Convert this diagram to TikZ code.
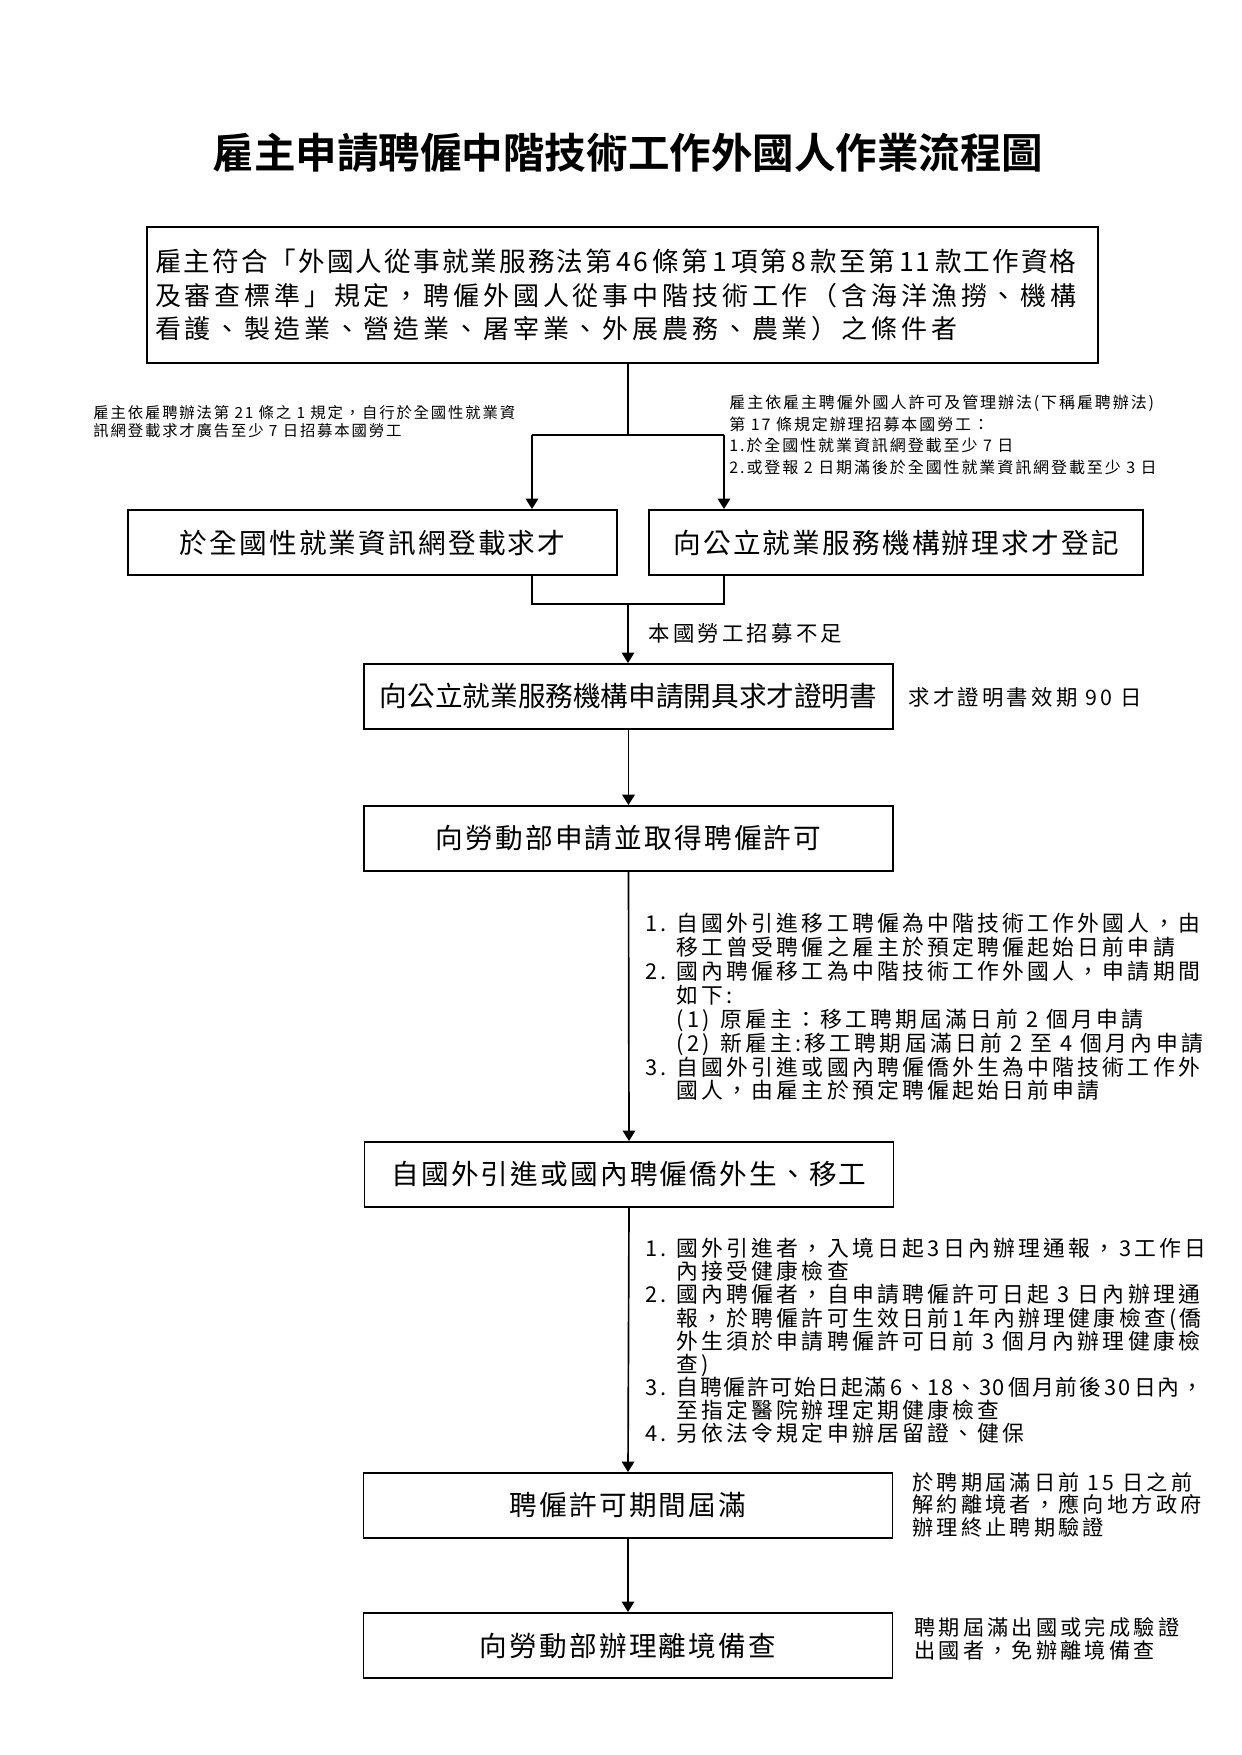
\documentclass[tikz,border=0pt]{standalone}
\usepackage{fontspec}
\setmainfont{Noto Sans CJK TC}[BoldFont={Noto Sans CJK TC Bold}]
\newfontfamily\LSa{Noto Sans CJK TC}[LetterSpace=6]
\newfontfamily\LSb{Noto Sans CJK TC}[LetterSpace=8]
\newfontfamily\LSe{Noto Sans CJK TC}[LetterSpace=12]
\newfontfamily\LSd{Noto Sans CJK TC}[LetterSpace=15]
\usetikzlibrary{arrows.meta}
\newcommand\pxu{0.016922cm}
\newcommand\itm[1]{\makebox[15pt][l]{#1}}
\newcommand\ind{\hspace*{15pt}}
\begin{document}
\begin{tikzpicture}[x=0.016922cm,y=-0.016922cm,
  box/.style={draw, line width=0.9pt, minimum width=529*\pxu, minimum height=65*\pxu, inner sep=0pt, font=\LSb\fontsize{13.3}{16}\selectfont},
  conn/.style={line width=0.8pt},
  arr/.style={line width=0.8pt, -{Triangle[length=5pt,width=6pt]}},
  note/.style={align=left, inner sep=0pt, anchor=north west},
  lab/.style={anchor=west, inner sep=0pt, font=\LSd\fontsize{10.3}{12}\selectfont},
]
\useasboundingbox[fill=white] (0,0) rectangle (1241,1755);

\node[font=\bfseries\fontsize{20}{22}\selectfont] (title) at (628,153) {雇主申請聘僱中階技術工作外國人作業流程圖};

\node[draw, line width=0.9pt, minimum width=951*\pxu, minimum height=136*\pxu, text width=935*\pxu, align=left, inner sep=0pt, font=\fontsize{12.5}{16.3}\selectfont] (main) at (622.5,295)
 {{\LSb\fontsize{12.8}{16.3}\selectfont 雇主符合「外國人從事就業服務法第\,46\,條第\,1\,項第\,8\,款至第\,11\,款工作資格}\\{\LSd 及審查標準」規定，聘僱外國人從事中階技術工作（含海洋漁撈、機構}\\{\LSd 看護、製造業、營造業、屠宰業、外展農務、農業）之條件者}};

\node[note, font=\LSe\fontsize{7.4}{8.6}\selectfont] (lnote) at (93,405)
 {雇主依雇聘辦法第~21~條之~1~規定，自行於全國性就業資\\訊網登載求才廣告至少~7~日招募本國勞工};
\node[note, font=\LSe\fontsize{7.7}{10.4}\selectfont] (rnote) at (729,394.5)
 {雇主依雇主聘僱外國人許可及管理辦法(下稱雇聘辦法)\\第~17~條規定辦理招募本國勞工：\\1.於全國性就業資訊網登載至少~7~日\\2.或登報~2~日期滿後於全國性就業資訊網登載至少~3~日};

\node[box, minimum width=489*\pxu] (bl) at (372.5,542.5) {於全國性就業資訊網登載求才};
\node[box, minimum width=494*\pxu] (br) at (896,542.5) {向公立就業服務機構辦理求才登記};

\node[box, font=\fontsize{13.3}{16}\selectfont] (b3) at (628.5,696.5) {向公立就業服務機構申請開具求才證明書};
\node[box] (b4) at (628.5,838.5) {向勞動部申請並取得聘僱許可};
\node[box] (b5) at (629,1174.5) {自國外引進或國內聘僱僑外生、移工};
\node[box] (b6) at (628,1505.5) {聘僱許可期間屆滿};
\node[box] (b7) at (628,1645.5) {向勞動部辦理離境備查};

\coordinate (c0) at (628,435);
\coordinate (cl) at (532,435);
\coordinate (cr) at (724,435);
\coordinate (dl) at (532,604);
\coordinate (dr) at (724,604);
\coordinate (d0) at (628,604);

\draw[conn] (c0 |- main.south) -- (c0);
\draw[conn] (cl) -- (cr);
\draw[arr] (cl) -- (cl |- bl.north);
\draw[arr] (cr) -- (cr |- br.north);
\draw[conn] (cl |- bl.south) -- (dl) -- (dr) -- (cr |- br.south);
\draw[arr] (d0) -- (d0 |- b3.north);
\draw[arr] (b3.south) -- (b4.north);
\draw[arr] (b4.south) -- (b5.north);
\draw[arr] (b5.south) -- (b6.north);
\draw[arr] (b6.south) -- (b7.north);

\node[lab] (lab1) at (648,633) {本國勞工招募不足};
\node[lab] (lab2) at (908,697) {求才證明書效期~90~日};

\node[note, font=\LSd\fontsize{10.5}{11.5}\selectfont] (n1) at (645,913)
 {\itm{1.}自國外引進移工聘僱為中階技術工作外國人，由\\
  \ind 移工曾受聘僱之雇主於預定聘僱起始日前申請\\
  \itm{2.}國內聘僱移工為中階技術工作外國人，申請期間\\
  \ind 如下:\\
  \ind\makebox[21pt][l]{(1)}原雇主：移工聘期屆滿日前~2~個月申請\\
  \ind\makebox[21pt][l]{(2)}新雇主:移工聘期屆滿日前~2~至~4~個月內申請\\
  \itm{3.}自國外引進或國內聘僱僑外生為中階技術工作外\\
  \ind 國人，由雇主於預定聘僱起始日前申請};

\node[note, font=\LSd\fontsize{10.5}{11.1}\selectfont] (n2) at (645,1238)
 {\itm{1.}國外引進者，入境日起\,3\,日內辦理通報，3\,工作日\\
  \ind 內接受健康檢查\\
  \itm{2.}國內聘僱者，自申請聘僱許可日起~3~日內辦理通\\
  \ind 報，於聘僱許可生效日前\,1\,年內辦理健康檢查(僑\\
  \ind 外生須於申請聘僱許可日前~3~個月內辦理健康檢\\
  \ind 查)\\
  \itm{3.}{\LSb 自聘僱許可始日起滿\,6、18、30\,個月前後\,30\,日內，}\\
  \ind 至指定醫院辦理定期健康檢查\\
  \itm{4.}另依法令規定申辦居留證、健保};

\node[note, font=\LSd\fontsize{10.2}{10.8}\selectfont] (s6) at (912,1472)
 {於聘期屆滿日前~15~日之前\\解約離境者，應向地方政府\\辦理終止聘期驗證};
\node[note, font=\LSd\fontsize{10.2}{11}\selectfont] (s7) at (914,1617)
 {聘期屆滿出國或完成驗證\\出國者，免辦離境備查};
\end{tikzpicture}
\end{document}
